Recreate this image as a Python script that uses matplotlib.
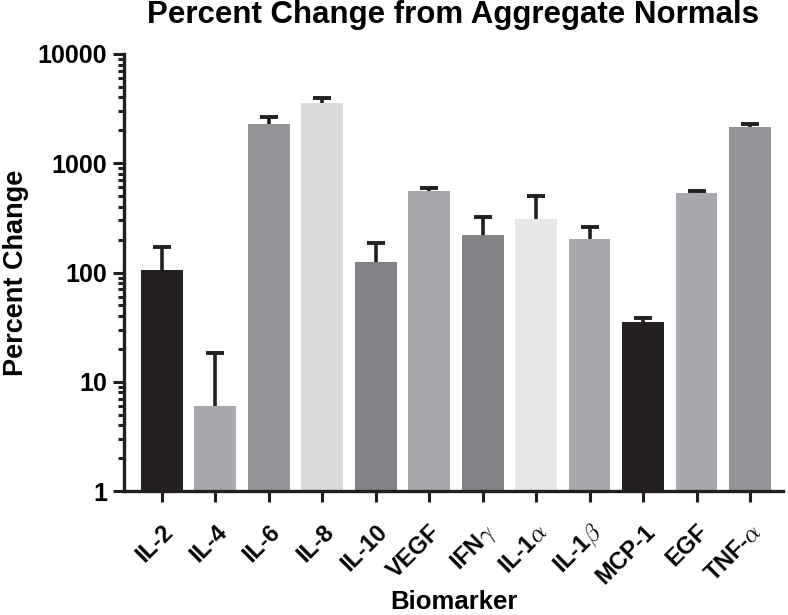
import numpy as np
import matplotlib
matplotlib.use("Agg")
import matplotlib.pyplot as plt
from matplotlib.ticker import LogLocator, FixedLocator

plt.rcParams["font.family"] = ["Liberation Sans", "DejaVu Sans"]
plt.rcParams["font.weight"] = "bold"
plt.rcParams["mathtext.fontset"] = "cm"

# dados
biomarkers = ["IL-2", "IL-4", "IL-6", "IL-8", "IL-10", "VEGF", r"IFN$\gamma$",
              r"IL-1$\alpha$", r"IL-1$\beta$", "MCP-1", "EGF", r"TNF-$\alpha$"]
percent_change = [106, 6.0, 2275, 3560, 126, 558, 222, 311, 203, 35, 531, 2150]
error_top = [170, 18.4, 2625, 3935, 187, 594, 323, 505, 261, 38.4, 558, 2310]
bar_colors = ["#231f20", "#a7a9ac", "#939598", "#d9dadc", "#808285", "#a7a9ac",
              "#808285", "#e6e7e8", "#a7a9ac", "#231f20", "#a7a9ac", "#939598"]

x = np.arange(len(biomarkers))
upper = np.array(error_top) - np.array(percent_change)
lower = np.zeros(len(x))

fig = plt.figure(figsize=(7.88, 6.15), dpi=100)
ax = fig.add_axes([0.157, 0.2016, 0.837, 0.7106])

ax.bar(x, percent_change, width=0.78, color=bar_colors, zorder=2)
eb = ax.errorbar(x, percent_change, yerr=[lower, upper], fmt="none", ecolor="#231f20",
                 elinewidth=2.6, capsize=6.5, capthick=2.8, zorder=3)
# só a barra de erro de cima (esconde o cap de baixo)
eb[1][0].set_visible(False)

ax.set_yscale("log")
ax.set_ylim(1, 10000)
ax.set_xlim(-0.71, 11.62)
ax.yaxis.set_major_locator(FixedLocator([1, 10, 100, 1000, 10000]))
ax.yaxis.set_minor_locator(LogLocator(base=10, subs=np.arange(2, 10)))
ax.set_yticklabels(["1", "10", "100", "1000", "10000"], fontsize=18, fontweight="bold")

ax.set_xticks(x)
ax.set_xticklabels(biomarkers, rotation=45, ha="right", rotation_mode="anchor",
                   fontsize=17, fontweight="bold")

for s in ["top", "right"]:
    ax.spines[s].set_visible(False)
for s in ["left", "bottom"]:
    ax.spines[s].set_linewidth(2.4)
    ax.spines[s].set_color("#231f20")

ax.tick_params(axis="y", which="major", length=8, width=2.2, color="#231f20", pad=4)
ax.tick_params(axis="y", which="minor", length=4.5, width=2.2, color="#231f20")
ax.tick_params(axis="x", which="major", length=8, width=2.2, color="#231f20", pad=13)

ax.set_title("Percent Change from Aggregate Normals", fontsize=22.5, fontweight="bold",
             pad=22)
ax.set_ylabel("Percent Change", fontsize=19.5, fontweight="bold", labelpad=6)
ax.set_xlabel("Biomarker", fontsize=18.5, fontweight="bold")
ax.xaxis.set_label_coords(0.5, -0.227)

fig.savefig("out.png", dpi=100)
